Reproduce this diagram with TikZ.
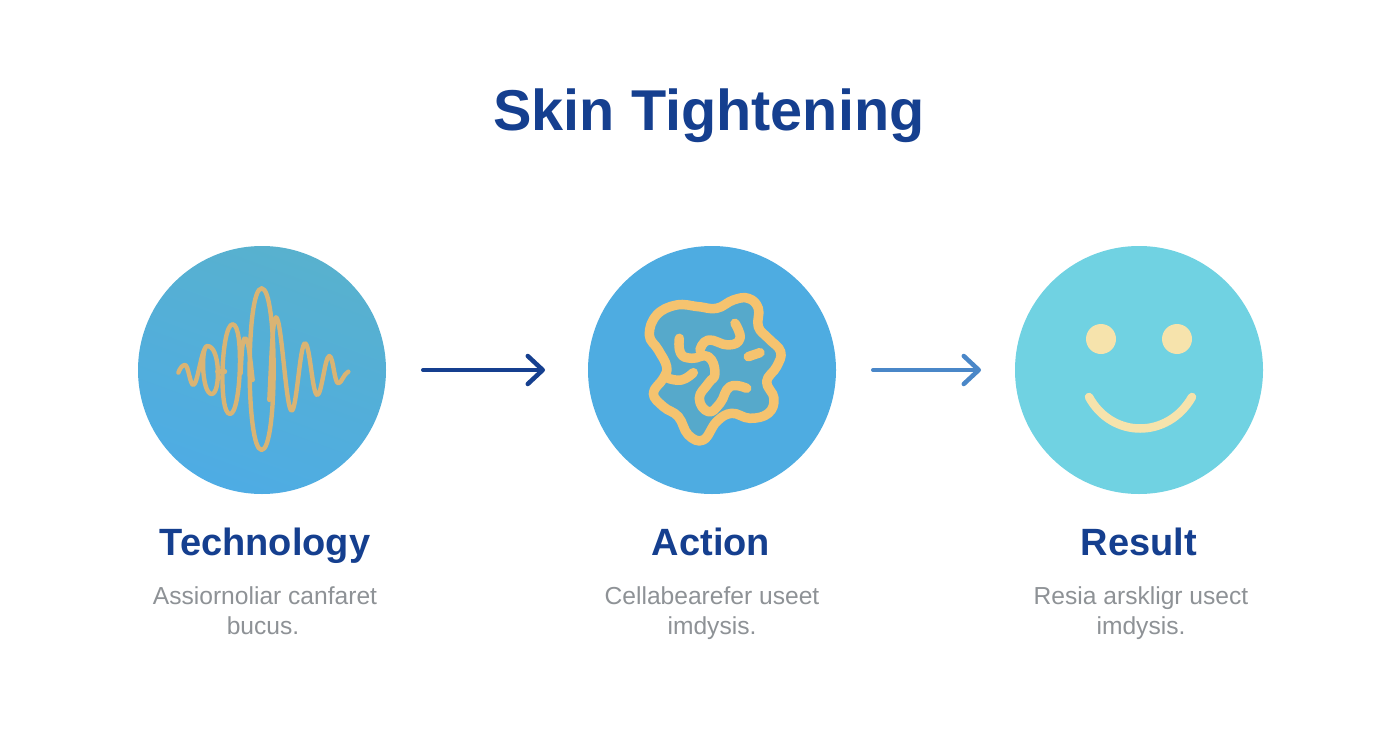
\documentclass[tikz,border=0pt]{standalone}
\usepackage{fontspec}
\setmainfont{Liberation Sans}
\usetikzlibrary{arrows.meta}
\definecolor{navy}{HTML}{153F8F}
\definecolor{midblue}{HTML}{4A87C8}
\definecolor{greytxt}{HTML}{8E9296}
\definecolor{tan}{HTML}{D9B474}
\definecolor{gold}{HTML}{F5C36F}
\definecolor{cream}{HTML}{F6E3AC}
\definecolor{teal}{HTML}{56A9CB}
\definecolor{discteal}{HTML}{58B1CE}
\definecolor{discblue}{HTML}{4EACE4}
\definecolor{disctwo}{HTML}{4EACE1}
\definecolor{discthree}{HTML}{70D2E2}
\tikzset{
  disc/.style={circle,minimum size=248pt,inner sep=0pt,outer sep=0pt},
  titletext/.style={anchor=base,font=\bfseries\fontsize{57.6}{62}\selectfont,text=navy},
  headtext/.style={anchor=base,font=\bfseries\fontsize{38}{42}\selectfont,text=navy},
  desctext/.style={anchor=base,font=\fontsize{24.6}{28}\selectfont,text=greytxt},
  flow/.style={line width=4pt,line cap=round,-{Straight Barb[length=15pt,width=28pt,line width=4.5pt,round]}},
  wave/.style={draw=tan,line width=4.4pt,line cap=round,line join=round},
  squiggle/.style={draw=gold,line width=9.5pt,line cap=round,line join=round},
}
\begin{document}
\begin{tikzpicture}[x=1pt,y=-1pt]
\useasboundingbox (0,0) rectangle (1392,752);
\fill[white] (0,0) rectangle (1392,752);
\node[titletext] (title) at (709,130) {Skin Tightening};
\node[disc,top color=discblue,bottom color=discteal,shading angle=160] (c1) at (262,370) {};
\node[disc,fill=disctwo] (c2) at (712,370) {};
\node[disc,fill=discthree] (c3) at (1139,370) {};
\draw[flow,navy,shorten <=37pt,shorten >=43pt] (c1.east) -- (c2.west);
\draw[flow,midblue,shorten <=37pt,shorten >=34pt] (c2.east) -- (c3.west);
% wave
\begin{scope}[shift={(130,240)},x=0.3333pt,y=-0.3333pt]
\draw[wave] (145,398) .. controls (150,385) and (157,375) .. (165,375)
  .. controls (175,375) and (180,435) .. (190,435)
  .. controls (203,435) and (215,318) .. (232,318)
  .. controls (272,318) and (272,462) .. (245,462)
  .. controls (215,462) and (212,318) .. (232,318);
\draw[wave] (262,395) -- (285,395);
\draw[wave] (308,253) .. controls (343,253) and (333,522) .. (300,522)
  .. controls (264,522) and (274,253) .. (308,253);
\draw[wave] (332,400) .. controls (335,330) and (338,295) .. (345,295)
  .. controls (355,295) and (360,350) .. (368,420);
\draw[wave] (395,145) .. controls (443,145) and (443,630) .. (395,630)
  .. controls (347,630) and (347,145) .. (395,145);
\draw[wave] (418,480) .. controls (425,340) and (428,232) .. (438,232)
  .. controls (455,232) and (468,512) .. (485,512)
  .. controls (500,512) and (510,310) .. (525,310)
  .. controls (540,310) and (547,465) .. (562,465)
  .. controls (575,465) and (585,348) .. (598,348)
  .. controls (610,348) and (613,430) .. (625,430)
  .. controls (635,430) and (640,403) .. (655,395);
\end{scope}
% blob
\begin{scope}[shift={(620,270)},x=0.3333pt,y=-0.3333pt]
\draw[squiggle,fill=teal] plot[smooth cycle,tension=0.7] coordinates {(88,195)(110,135)(170,105)(235,110)(290,115)(340,90)(385,85)(415,115)(415,170)(445,205)(482,245)(470,290)(440,335)(462,385)(445,430)(390,445)(335,430)(290,455)(250,510)(205,495)(175,440)(130,410)(100,370)(130,325)(140,290)(115,240)};
\draw[squiggle] plot[smooth,tension=0.8] coordinates {(178,205)(182,250)(215,265)(265,260)(285,310)(265,340)(238,385)(265,425)(300,400)(330,350)(380,355)};
\draw[squiggle] plot[smooth,tension=0.8] coordinates {(240,240)(265,210)(325,225)(360,205)(345,160)};
\draw[squiggle] plot[smooth,tension=0.8] coordinates {(145,325)(185,330)(220,308)};
\draw[squiggle] (385,260) -- (420,248);
\end{scope}
% face
\fill[cream] (1101,339) circle (15pt);
\fill[cream] (1177,339) circle (15pt);
\draw[draw=cream,line width=8.5pt,line cap=round] (1089,397) .. controls (1112,439) and (1168,439) .. (1192,397);
% labels
\node[headtext] (t1) at (265,555) {Technology};
\node[headtext] (t2) at (711,555) {Action};
\node[headtext] (t3) at (1139,555) {Result};
\node[desctext] (d1a) at (265,604) {Assiornoliar canfaret};
\node[desctext] (d1b) at (263,634) {bucus.};
\node[desctext] (d2a) at (712,604) {Cellabearefer useet};
\node[desctext] (d2b) at (712,634) {imdysis.};
\node[desctext] (d3a) at (1141,604) {Resia arskligr usect};
\node[desctext] (d3b) at (1141,634) {imdysis.};
\end{tikzpicture}
\end{document}
